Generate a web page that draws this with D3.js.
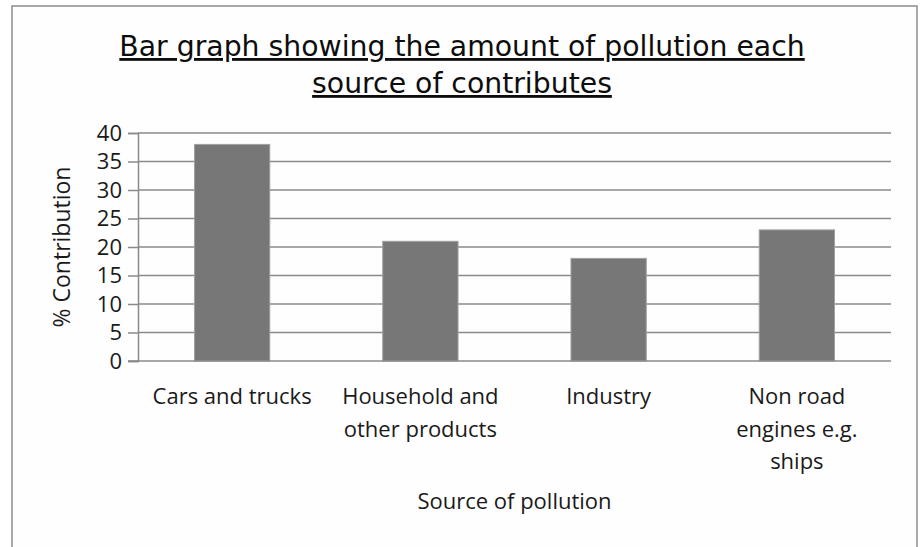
<!DOCTYPE html>
<html>
<head>
<meta charset="utf-8">
<script src="https://cdn.jsdelivr.net/npm/d3@7"></script>
<style>
  html, body { margin: 0; padding: 0; background: #ffffff; }
  svg { display: block; }
</style>
</head>
<body>
<svg id="chart" width="920" height="547"></svg>
<script>
// Pollution sources and their share of total pollution
const categories = [
  ["Cars and trucks"],
  ["Household and", "other products"],
  ["Industry"],
  ["Non road", "engines e.g.", "ships"]
];
const contributions = [38, 21, 18, 23];
const yTicks = [0, 5, 10, 15, 20, 25, 30, 35, 40];
const titleLines = ["Bar graph showing the amount of pollution each", "source of contributes"];
const xTitle = "Source of pollution";
const yTitle = "% Contribution";

const svg = d3.select("#chart");
const plot = { left: 138, right: 891, top: 133, bottom: 361 };
const labelFont = "'Open Sans', Lato, sans-serif";
const titleFont = "'DejaVu Sans', 'Liberation Sans', Arial, sans-serif";
const textColor = "#1a1a1a";
const lineColor = "#8a8a8a";

// chart frame
svg.append("rect")
  .attr("x", 12).attr("y", 6)
  .attr("width", 905).attr("height", 560)
  .attr("fill", "#fefefe")
  .attr("stroke", "#8c8c8c").attr("stroke-width", 1.5);

const x = d3.scaleBand()
  .domain(d3.range(categories.length))
  .range([plot.left, plot.right])
  .padding(0);
const y = d3.scaleLinear().domain([0, 40]).range([plot.bottom, plot.top]);

// horizontal gridlines
svg.append("g").selectAll("line")
  .data(yTicks.filter(d => d > 0))
  .join("line")
  .attr("x1", plot.left).attr("x2", plot.right)
  .attr("y1", d => y(d)).attr("y2", d => y(d))
  .attr("stroke", lineColor).attr("stroke-width", 1.5);

// bars, 40% of the category width, centred
const barW = x.bandwidth() * 0.4;
svg.append("g").selectAll("rect")
  .data(contributions)
  .join("rect")
  .attr("x", (d, i) => x(i) + (x.bandwidth() - barW) / 2)
  .attr("y", d => y(d))
  .attr("width", barW)
  .attr("height", d => y(0) - y(d))
  .attr("fill", "#777777")
  .attr("stroke", "#a0a0a0").attr("stroke-width", 1);

// y axis
const yAxis = d3.axisLeft(y).tickValues(yTicks).tickSize(10).tickPadding(6);
const gy = svg.append("g").attr("transform", `translate(${plot.left},0)`).call(yAxis);
gy.select(".domain").attr("stroke", lineColor).attr("stroke-width", 1.5);
gy.selectAll(".tick line").attr("stroke", lineColor).attr("stroke-width", 1.5);
gy.selectAll(".tick text")
  .attr("font-family", labelFont).attr("font-size", 22).attr("fill", textColor);

// x axis baseline
svg.append("line")
  .attr("x1", plot.left - 10).attr("x2", plot.right)
  .attr("y1", y(0)).attr("y2", y(0))
  .attr("stroke", lineColor).attr("stroke-width", 1.5);

// category labels
const cat = svg.append("g").selectAll("text")
  .data(categories)
  .join("text")
  .attr("x", (d, i) => x(i) + x.bandwidth() / 2)
  .attr("y", 404)
  .attr("text-anchor", "middle")
  .attr("font-family", labelFont).attr("font-size", 22).attr("fill", textColor);
cat.selectAll("tspan")
  .data(d => d)
  .join("tspan")
  .attr("x", function () { return d3.select(this.parentNode).attr("x"); })
  .attr("dy", (d, i) => i === 0 ? 0 : 32.5)
  .text(d => d);

// axis titles
svg.append("text")
  .attr("x", (plot.left + plot.right) / 2).attr("y", 509)
  .attr("text-anchor", "middle")
  .attr("font-family", labelFont).attr("font-size", 22).attr("fill", textColor)
  .text(xTitle);
svg.append("text")
  .attr("transform", `translate(70,${(plot.top + plot.bottom) / 2}) rotate(-90)`)
  .attr("text-anchor", "middle")
  .attr("font-family", labelFont).attr("font-size", 23).attr("fill", textColor)
  .text(yTitle);

// underlined title
svg.append("g").selectAll("text")
  .data(titleLines)
  .join("text")
  .attr("x", 462).attr("y", (d, i) => 56 + i * 37)
  .attr("text-anchor", "middle")
  .attr("font-family", titleFont).attr("font-size", 28.3).attr("fill", "#0d0d0d")
  .attr("text-decoration", "underline")
  .text(d => d);
</script>
</body>
</html>
